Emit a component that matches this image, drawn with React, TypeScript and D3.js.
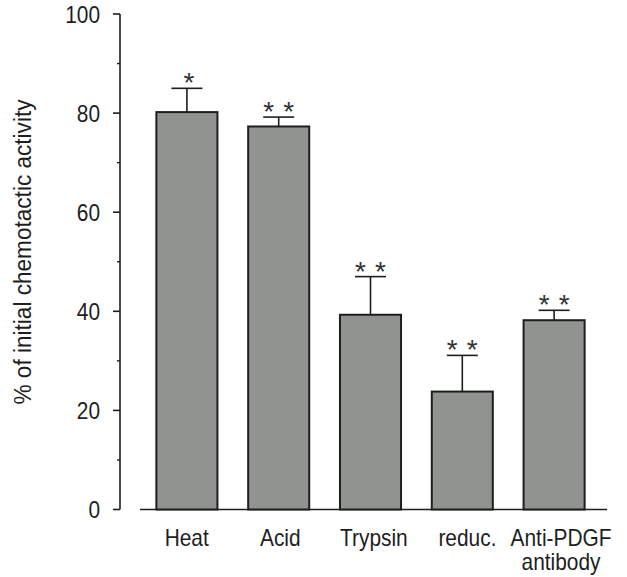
import React from "react";
import * as d3 from "d3";

const categories = ["Heat", "Acid", "Trypsin", "reduc.", "Anti-PDGF antibody"];
const labelLines = [["Heat"], ["Acid"], ["Trypsin"], ["reduc."], ["Anti-PDGF", "antibody"]];
const values = [80.2, 77.3, 39.3, 23.8, 38.2];
const errors = [4.8, 1.9, 7.7, 7.3, 2.0];
const stars = [1, 2, 2, 2, 2];
const majorTicks = [0, 20, 40, 60, 80, 100];
const minorTicks = [10, 30, 50, 70, 90];
const yLabel = "% of initial chemotactic activity";

const W = 627;
const H = 577;
const FONT = "'Liberation Sans', Arial, Helvetica, sans-serif";
const INK = "#1e1e1e";

export default function App() {
  const y = d3.scaleLinear().domain([0, 100]).range([509.5, 14]);
  const x = d3
    .scaleBand<string>()
    .domain(categories)
    .range([141, 600])
    .paddingInner(0.335)
    .paddingOuter(0.1675);
  const xLab = d3.scalePoint<string>().domain(categories).range([186.7, 561]);
  const axisX = 120;
  const bw = x.bandwidth();
  const capW = 31;

  return (
    <svg
      width={W}
      height={H}
      viewBox={`0 0 ${W} ${H}`}
      style={{ position: "absolute", left: 0, top: 0, background: "#fff" }}
      fontFamily={FONT}
    >
      {/* y axis */}
      <line x1={axisX} x2={axisX} y1={y(100)} y2={y(0)} stroke={INK} strokeWidth={1.6} />
      {majorTicks.map((t) => (
        <g key={"M" + t}>
          <line x1={axisX - 7} x2={axisX} y1={y(t)} y2={y(t)} stroke={INK} strokeWidth={1.6} />
          <g transform={`translate(100,${y(t)}) scale(0.95,1.08)`}>
            <text x={0} y={0} dy="0.36em" textAnchor="end" fontSize={22} fill={INK}>
              {t}
            </text>
          </g>
        </g>
      ))}
      {minorTicks.map((t) => (
        <line key={"m" + t} x1={axisX - 3} x2={axisX} y1={y(t)} y2={y(t)} stroke={INK} strokeWidth={1.4} />
      ))}
      {/* y label */}
      <text
        transform={`translate(31,252) rotate(-90)`}
        textAnchor="middle"
        fontSize={23.5}
        textLength={305}
        lengthAdjust="spacingAndGlyphs"
        fill={INK}
      >
        {yLabel}
      </text>

      {/* x baseline */}
      <line x1={140} x2={607} y1={y(0)} y2={y(0)} stroke={INK} strokeWidth={1.6} />

      {/* bars */}
      {categories.map((c, i) => {
        const x0 = x(c)!;
        const cx = x0 + bw / 2;
        const top = y(values[i]);
        const et = y(values[i] + errors[i]);
        const starY = et - 11;
        const starXs = stars[i] === 1 ? [cx + 2] : [cx - 10, cx + 10];
        return (
          <g key={c}>
            <rect
              x={x0}
              y={top}
              width={bw}
              height={y(0) - top}
              fill="#919391"
              stroke={INK}
              strokeWidth={2}
            />
            <line x1={cx} x2={cx} y1={top} y2={et} stroke={INK} strokeWidth={1.6} />
            <line x1={cx - capW / 2} x2={cx + capW / 2} y1={et} y2={et} stroke={INK} strokeWidth={1.6} />
            {starXs.map((sx, k) => (
              <text
                key={k}
                x={sx}
                y={starY + 15}
                textAnchor="middle"
                fontSize={28}
                fill="#333"
              >
                *
              </text>
            ))}
          </g>
        );
      })}

      {/* x labels */}
      {categories.map((c, i) => (
        <g key={"l" + c} transform={`translate(${xLab(c)!},0) scale(0.87,1)`}>
          <text textAnchor="middle" fontSize={24} fill={INK}>
            {labelLines[i].map((ln, k) => (
              <tspan key={k} x={0} y={546.5 + k * 24}>
                {ln}
              </tspan>
            ))}
          </text>
        </g>
      ))}
    </svg>
  );
}
